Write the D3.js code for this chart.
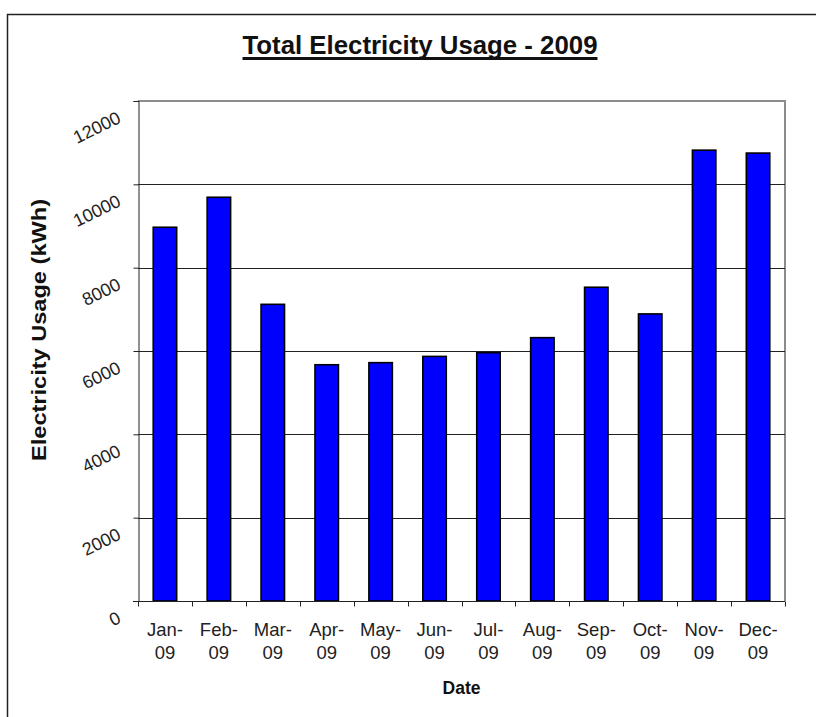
<!DOCTYPE html>
<html>
<head>
<meta charset="utf-8">
<script src="https://cdn.jsdelivr.net/npm/d3@7"></script>
<style>
  html, body { margin: 0; padding: 0; background: #fff; }
  svg { display: block; font-family: "Liberation Sans", Arial, sans-serif; }
</style>
</head>
<body>
<svg id="chart" width="816" height="717"></svg>
<script>
// Monthly electricity usage for 2009 (kWh)
const months = ["Jan", "Feb", "Mar", "Apr", "May", "Jun", "Jul", "Aug", "Sep", "Oct", "Nov", "Dec"];
const yearSuffix = "09";
const usage = [8970, 9690, 7120, 5670, 5720, 5870, 5960, 6320, 7530, 6890, 10820, 10750];
const yTicks = [0, 2000, 4000, 6000, 8000, 10000, 12000];

const chartTitle = "Total Electricity Usage - 2009";
const xTitle = "Date";
const yTitle = "Electricity Usage (kWh)";

const svg = d3.select("#chart");

// Outer chart frame
svg.append("rect")
  .attr("x", 7.5).attr("y", 14.5)
  .attr("width", 830).attr("height", 730)
  .attr("fill", "#fff").attr("stroke", "#222").attr("stroke-width", 1.5);

const plot = { left: 138, right: 785, top: 101, bottom: 601 };

const x = d3.scaleBand()
  .domain(months)
  .range([plot.left, plot.right])
  .paddingInner(0.565)
  .paddingOuter(0.2825);

const xEdges = d3.scaleBand().domain(months).range([plot.left, plot.right]).padding(0);

const y = d3.scaleLinear().domain([0, 12000]).range([plot.bottom, plot.top]);

// Plot area border (top and right in grey)
svg.append("path")
  .attr("d", `M${plot.left},${plot.top}H${plot.right}V${plot.bottom}`)
  .attr("fill", "none").attr("stroke", "#8c8c8c").attr("stroke-width", 2);

// Horizontal gridlines
svg.append("g")
  .selectAll("line")
  .data(yTicks.filter(t => t > 0 && t < 12000))
  .join("line")
  .attr("x1", plot.left).attr("x2", plot.right)
  .attr("y1", d => Math.round(y(d)) + 0.5).attr("y2", d => Math.round(y(d)) + 0.5)
  .attr("stroke", "#222").attr("stroke-width", 1);

// Bars
svg.append("g")
  .selectAll("rect")
  .data(usage)
  .join("rect")
  .attr("x", (d, i) => x(months[i]))
  .attr("width", x.bandwidth())
  .attr("y", d => y(d))
  .attr("height", d => y(0) - y(d))
  .attr("fill", "#0000ff")
  .attr("stroke", "#000").attr("stroke-width", 1.6);

// Y axis with ticks pointing left
const yAxis = d3.axisLeft(y).tickValues(yTicks).tickSize(5).tickFormat("");
const gy = svg.append("g")
  .attr("transform", `translate(${plot.left + 0.5},0)`)
  .call(yAxis);
gy.select(".domain").attr("stroke", "#222").attr("d", `M-5,${plot.top + 0.5}H0.5V${plot.bottom}`);
gy.selectAll(".tick line").attr("stroke", "#222");

// Rotated y tick labels
svg.append("g")
  .selectAll("text")
  .data(yTicks)
  .join("text")
  .attr("transform", d => `translate(122,${y(d) + 21}) rotate(-26)`)
  .attr("text-anchor", "end")
  .attr("font-size", 18)
  .attr("fill", "#222")
  .text(d => d);

// X axis with ticks at category boundaries
const gx = svg.append("g")
  .attr("transform", `translate(0,${plot.bottom + 0.5})`);
gx.append("line")
  .attr("x1", plot.left - 5).attr("x2", plot.right)
  .attr("stroke", "#222");
gx.selectAll(".edge")
  .data(months.concat(["end"]))
  .join("line")
  .attr("class", "edge")
  .attr("x1", (d, i) => Math.round(i < months.length ? xEdges(d) : plot.right) + 0.5)
  .attr("x2", (d, i) => Math.round(i < months.length ? xEdges(d) : plot.right) + 0.5)
  .attr("y1", 0).attr("y2", 5)
  .attr("stroke", "#222");

// Two-line category labels
const xl = svg.append("g")
  .selectAll("text")
  .data(months)
  .join("text")
  .attr("text-anchor", "middle")
  .attr("font-size", 18.5)
  .attr("fill", "#222");
xl.append("tspan")
  .attr("x", d => xEdges(d) + xEdges.bandwidth() / 2)
  .attr("y", 636)
  .text(d => d + "-");
xl.append("tspan")
  .attr("x", d => xEdges(d) + xEdges.bandwidth() / 2)
  .attr("y", 659)
  .text(yearSuffix);

// Axis titles
svg.append("text")
  .attr("x", (plot.left + plot.right) / 2)
  .attr("y", 694)
  .attr("text-anchor", "middle")
  .attr("font-size", 17.5)
  .attr("font-weight", "bold")
  .attr("fill", "#111")
  .text(xTitle);

svg.append("text")
  .attr("transform", "translate(46,330) rotate(-90)")
  .attr("text-anchor", "middle")
  .attr("font-size", 20)
  .attr("font-weight", "bold")
  .attr("fill", "#111")
  .attr("textLength", 262)
  .attr("lengthAdjust", "spacingAndGlyphs")
  .text(yTitle);

// Chart title with underline
const titleX = 420;
const title = svg.append("text")
  .attr("x", titleX)
  .attr("y", 54)
  .attr("text-anchor", "middle")
  .attr("font-size", 25.5)
  .attr("font-weight", "bold")
  .attr("fill", "#111")
  .attr("textLength", 355)
  .attr("lengthAdjust", "spacingAndGlyphs")
  .text(chartTitle);
svg.append("line")
  .attr("x1", titleX - 355 / 2).attr("x2", titleX + 355 / 2)
  .attr("y1", 58.5).attr("y2", 58.5)
  .attr("stroke", "#111").attr("stroke-width", 3);
</script>
</body>
</html>
